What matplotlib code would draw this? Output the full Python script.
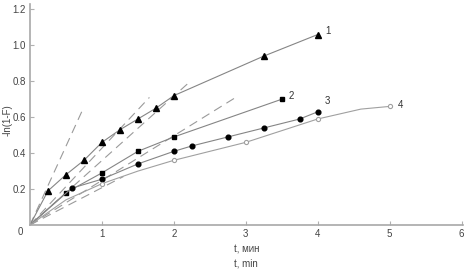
import matplotlib
matplotlib.use("Agg")
import matplotlib.pyplot as plt

plt.rcParams["font.family"] = ["Liberation Sans", "DejaVu Sans"]

# curve 1 (filled triangles)
t1 = [0, 0.25, 0.5, 0.75, 1.0, 1.25, 1.5, 1.75, 2.0, 3.25, 4.0]
y1 = [0, 0.19, 0.28, 0.36, 0.46, 0.53, 0.59, 0.65, 0.72, 0.94, 1.06]
# curve 2 (filled squares)
t2 = [0, 0.5, 1.0, 1.5, 2.0, 3.5]
y2 = [0, 0.18, 0.29, 0.41, 0.49, 0.70]
# curve 3 (filled circles)
t3 = [0, 0.58, 1.0, 1.5, 2.0, 2.25, 2.75, 3.25, 3.75, 4.0]
y3 = [0, 0.205, 0.255, 0.34, 0.41, 0.44, 0.49, 0.54, 0.59, 0.63]
# curve 4 (open circles)
t4 = [0, 0.5, 1.0, 1.5, 2.0, 3.0, 4.0, 4.6, 5.0]
y4 = [0, 0.14, 0.23, 0.30, 0.36, 0.46, 0.59, 0.645, 0.66]
t4_marks = [1.0, 2.0, 3.0, 4.0, 5.0]
y4_marks = [0.23, 0.36, 0.46, 0.59, 0.66]

# initial-slope dashed lines (end points, all start at origin)
dash_t = [0.73, 1.66, 2.23, 2.9, 1.3]
dash_y = [0.64, 0.71, 0.80, 0.72, 0.27]

curve_labels = ["1", "2", "3", "4"]
label_t = [4.1, 3.6, 4.1, 5.12]
label_y = [1.08, 0.72, 0.69, 0.67]

line_c = "#858585"

fig = plt.figure(figsize=(4.67, 2.71), dpi=100)
ax = fig.add_axes([30 / 467, 46 / 271, 433 / 467, 221 / 271])

for te, ye in zip(dash_t, dash_y):
    ax.plot([0, te], [0, ye], color="#9a9a9a", lw=0.8, ls=(0, (8, 5)))

ax.plot(t1, y1, color=line_c, lw=0.8)
ax.plot(t1[1:], y1[1:], ls="none", marker="^", ms=3.8, color="black")
ax.plot(t2, y2, color=line_c, lw=0.8)
ax.plot(t2[1:], y2[1:], ls="none", marker="s", ms=3.3, color="black")
ax.plot(t3, y3, color=line_c, lw=0.8)
ax.plot(t3[1:], y3[1:], ls="none", marker="o", ms=3.4, color="black")
ax.plot(t4, y4, color="#a0a0a0", lw=0.8)
ax.plot(t4_marks, y4_marks, ls="none", marker="o", ms=3, mfc="white",
        mec="#a0a0a0", mew=0.8)

for s, tx, ty in zip(curve_labels, label_t, label_y):
    ax.text(tx, ty, s, fontsize=7, color="#333333", va="center", ha="left")

ax.set_xlim(0, 6.02)
ax.set_ylim(0, 1.23)
ax.set_xticks([1, 2, 3, 4, 5, 6])
ax.set_yticks([0.2, 0.4, 0.6, 0.8, 1.0, 1.2])
ax.set_yticklabels(["0.2", "0.4", "0.6", "0.8", "1.0", "1.2"])
ax.tick_params(direction="in", length=3, width=0.8, colors="#b0b0b0",
               labelcolor="#444444", labelsize=7, pad=3)
for side in ("top", "right"):
    ax.spines[side].set_visible(False)
for side in ("left", "bottom"):
    ax.spines[side].set_color("#a8a8a8")
    ax.spines[side].set_linewidth(1.2)

ax.text(-0.14, -0.04, "0", fontsize=7, color="#444444", ha="center", va="center")
fig.text(8 / 467, 1 - 120 / 271, "-ln(1-F)", rotation=90, fontsize=7,
         color="#444444", ha="center", va="center")
fig.text(234 / 467, 1 - 249 / 271, "t, мин", fontsize=7, color="#444444",
         ha="left", va="center")
fig.text(234 / 467, 1 - 264 / 271, "t, min", fontsize=7, color="#444444",
         ha="left", va="center")

fig.savefig("out.png", dpi=100)
